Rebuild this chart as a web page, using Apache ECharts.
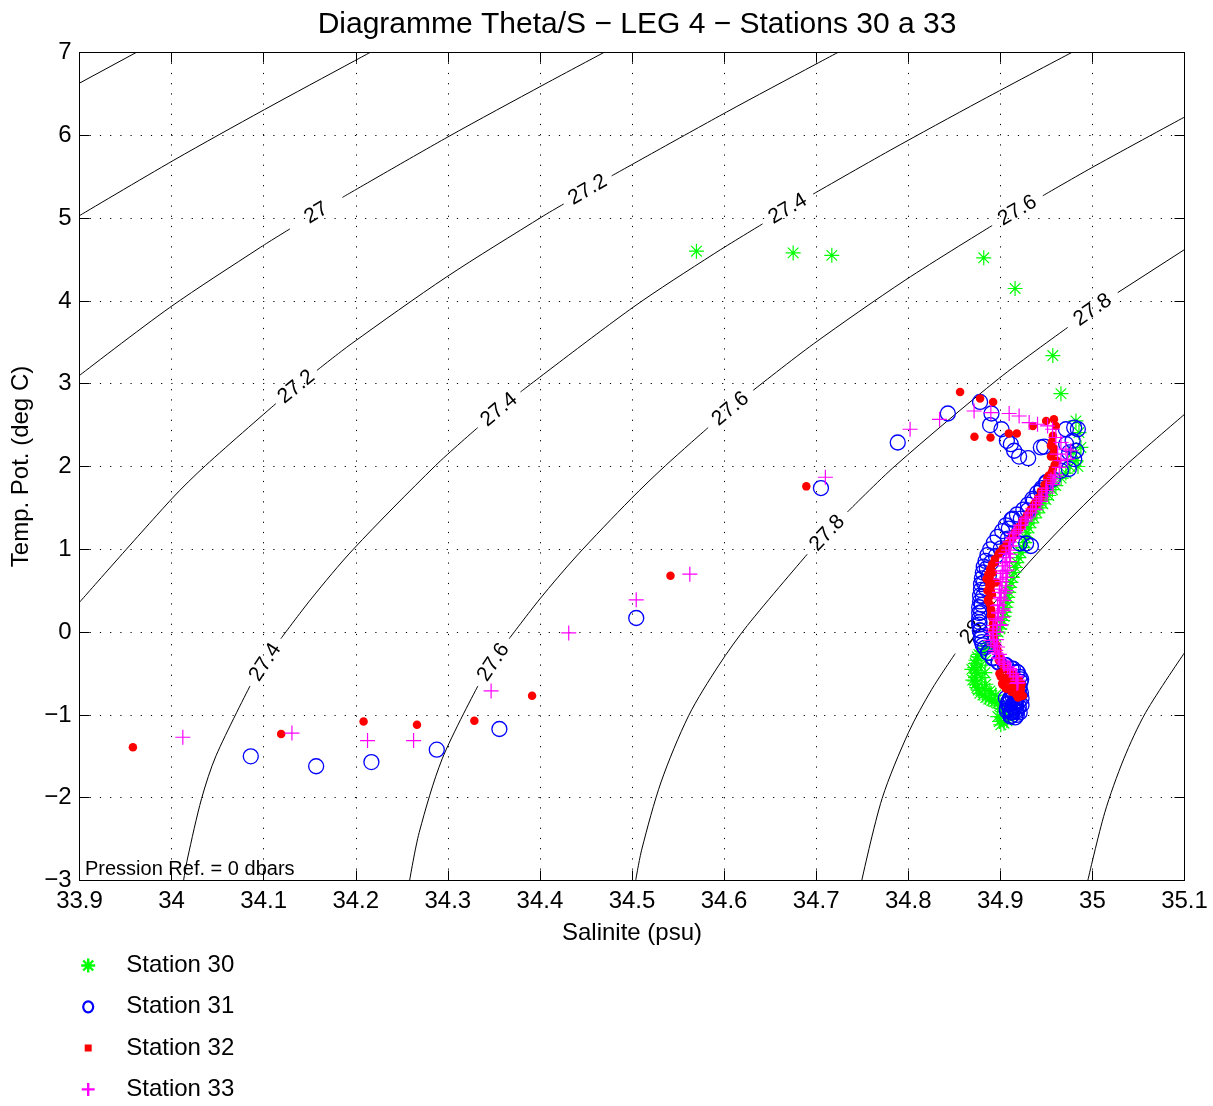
<!DOCTYPE html>
<html>
<head>
<meta charset="utf-8">
<script src="https://cdn.jsdelivr.net/npm/echarts@6/dist/echarts.min.js"></script>
<style>
  html, body { margin: 0; padding: 0; background: #fff; }
  #chart { width: 1213px; height: 1106px; }
</style>
</head>
<body>
<div id="chart"></div>
<script>
// ---- Axis ranges and ticks ----
const salinityRange = [33.9, 35.1];
const salinityStep = 0.1;
const thetaRange = [-3, 7];
const thetaStep = 1;

// ---- Isopycnals (sigma-theta), each split into pieces where a level label sits ----
const contourLevels = [26.6, 26.8, 27, 27.2, 27.4, 27.6, 27.8, 28, 28.2];

const sigma266 = [
  [[33.900, 6.63], [33.9615, 7.00]]
];
const sigma268 = [
  [[33.900, 5.03], [34.0025, 5.70], [34.1008, 6.31], [34.1988, 6.90], [34.2155, 7.00]]
];
const sigma270 = [
  [[33.900, 3.10], [33.998, 3.92], [34.0969, 4.65], [34.1286, 4.87]],
  [[34.1855, 5.25], [34.300, 5.98], [34.4055, 6.62], [34.4695, 7.00]]
];
const sigma272 = [
  [[33.900, 0.36], [34.0002, 1.61], [34.0367, 2.01], [34.1133, 2.76]],
  [[34.1578, 3.16], [34.195, 3.48], [34.2987, 4.29], [34.4043, 5.03], [34.4258, 5.17]],
  [[34.4779, 5.51], [34.6026, 6.28], [34.6998, 6.86], [34.7235, 7.00]]
];
const sigma274 = [
  [[34.013, -3.00], [34.0172, -2.74], [34.0326, -2.01], [34.0484, -1.49], [34.0852, -0.65]],
  [[34.1186, -0.08], [34.1515, 0.40], [34.1973, 1.00], [34.2865, 2.01], [34.3325, 2.47]],
  [[34.3789, 2.90], [34.5008, 3.92], [34.5892, 4.57], [34.6418, 4.93]],
  [[34.6967, 5.29], [34.7805, 5.82], [34.8792, 6.42], [34.9775, 7.00]]
];
const sigma276 = [
  [[34.2585, -3.00], [34.2689, -2.42], [34.2939, -1.53], [34.3327, -0.65]],
  [[34.3666, -0.08], [34.3999, 0.40], [34.4399, 0.92], [34.499, 1.61], [34.5363, 2.01], [34.5827, 2.47]],
  [[34.6316, 2.92], [34.697, 3.48], [34.7966, 4.25], [34.8911, 4.91]],
  [[34.9461, 5.27], [35.0027, 5.63], [35.100, 6.22]]
];
const sigma278 = [
  [[34.504, -3.00], [34.5107, -2.62], [34.5316, -1.81], [34.5615, -1.01], [34.5943, -0.40], [34.6253, 0.08], [34.6903, 0.94]],
  [[34.7339, 1.45], [34.786, 2.01], [34.8981, 3.06], [34.9732, 3.68]],
  [[35.0275, 4.10], [35.100, 4.62]]
];
const sigma280 = [
  [[34.7495, -3.00], [34.7716, -2.01], [34.8004, -1.21], [34.8256, -0.69], [34.851, -0.26]],
  [[34.8865, 0.26], [34.9135, 0.62], [34.9475, 1.04], [34.9903, 1.53], [35.0358, 2.01], [35.100, 2.63]]
];
const sigma282 = [
  [[34.995, -3.00], [35.0134, -2.18], [35.0341, -1.53], [35.0579, -0.97], [35.100, -0.25]]
];
const contourLines = [sigma266, sigma268, sigma270, sigma272, sigma274, sigma276, sigma278, sigma280, sigma282];

// ---- Station profiles: [salinity (psu), potential temperature (deg C)] ----
const stationNames = ['Station 30', 'Station 31', 'Station 32', 'Station 33'];

const station30 = [
  [34.570, 4.60], [34.675, 4.58], [34.717, 4.55], [34.882, 4.52], [34.916, 4.15], [34.957, 3.34],
  [34.9658, 2.88], [34.9821, 2.55], [34.9854, 2.41], [34.9875, 2.23], [34.979, 2.17], [34.9843, 2.00],
  [34.9821, 2.07], [34.9712, 1.92], [34.9603, 1.77], [34.9527, 1.65], [34.9462, 1.55], [34.9397, 1.44],
  [34.9332, 1.32], [34.9288, 1.20], [34.9266, 1.08], [34.9223, 0.96], [34.9179, 0.84], [34.9147, 0.72],
  [34.9114, 0.60], [34.9092, 0.48], [34.9071, 0.36], [34.9049, 0.24], [34.9027, 0.14], [34.8995, 0.04],
  [34.8951, -0.05], [34.8897, -0.13], [34.8832, -0.20], [34.8767, -0.27], [34.8734, -0.34], [34.8723, -0.43],
  [34.8745, -0.50], [34.8723, -0.59], [34.8745, -0.67], [34.8777, -0.74], [34.8842, -0.79], [34.8908, -0.83],
  [34.8973, -0.86], [34.9016, -0.92], [34.9038, -1.00], [34.9071, -1.07], [34.9005, -1.12], [34.8973, -1.02],
  [34.9114, -0.97], [34.8842, -0.34], [34.8832, -0.49], [34.8842, -0.63], [34.8886, -0.71], [34.8951, -0.76],
  [34.9755, 2.00], [34.9660, 1.86], [34.9565, 1.72], [34.9495, 1.60], [34.9430, 1.50], [34.9365, 1.38],
  [34.9310, 1.26], [34.9275, 1.14], [34.9245, 1.02], [34.9200, 0.90], [34.9165, 0.78], [34.9130, 0.66],
  [34.9100, 0.54], [34.9080, 0.42], [34.9060, 0.30], [34.9040, 0.19], [34.9010, 0.09], [34.8975, 0.00],
  [34.8925, -0.09], [34.8865, -0.17], [34.8800, -0.23], [34.8750, -0.30], [34.8728, -0.38], [34.8734, -0.46],
  [34.8730, -0.55], [34.8734, -0.63], [34.8760, -0.70], [34.8810, -0.76], [34.8875, -0.81], [34.8940, -0.84],
  [34.8995, -0.89], [34.9027, -0.96], [34.9055, -1.04], [34.9040, -1.10], [34.8990, -1.08],
  [34.8790, -0.40], [34.8800, -0.55], [34.8830, -0.68], [34.8900, -0.74], [34.8690, -0.45], [34.8700, -0.58]
];

const station31 = [
  [34.086, -1.50], [34.157, -1.62], [34.217, -1.57], [34.288, -1.42], [34.356, -1.17], [34.5046, 0.17],
  [34.7052, 1.74], [34.7886, 2.29], [34.843, 2.64],
  [34.8780, 2.78], [34.8904, 2.64], [34.8889, 2.50], [34.9013, 2.45], [34.9071, 2.31], [34.9114, 2.27],
  [34.9150, 2.19], [34.9204, 2.12], [34.9302, 2.10], [34.9440, 2.23], [34.9476, 2.24], [34.9712, 2.45],
  [34.9802, 2.47], [34.9842, 2.45], [34.9785, 2.31], [34.9715, 2.27], [34.9748, 2.17], [34.9824, 2.19],
  [34.9802, 2.09], [34.9744, 1.97], [34.9658, 1.95], [34.9571, 1.85], [34.9498, 1.81], [34.9440, 1.71],
  [34.9364, 1.59], [34.9299, 1.47], [34.9223, 1.37], [34.9136, 1.37], [34.9092, 1.25], [34.9209, 1.07],
  [34.9280, 1.07], [34.9332, 1.04], [34.9082, 1.13], [34.9005, 1.01], [34.8951, 0.92], [34.8900, 0.84],
  [34.8853, 0.77], [34.8875, 0.68], [34.8821, 0.60], [34.8846, 0.52], [34.8810, 0.43], [34.8799, 0.33],
  [34.8791, 0.24], [34.8774, 0.12], [34.8777, 0.02], [34.8788, -0.08], [34.8810, -0.16], [34.8864, -0.25],
  [34.8918, -0.32], [34.8984, -0.37], [34.9063, -0.40], [34.9136, -0.44], [34.9190, -0.49], [34.9226, -0.57],
  [34.9201, -0.68], [34.9147, -0.65], [34.9223, -0.73], [34.9136, -0.73], [34.9168, -0.83], [34.9092, -0.83],
  [34.9201, -0.90], [34.9136, -0.89], [34.9168, -0.95], [34.9114, -0.97], [34.9071, -0.92], [34.9179, -1.00],
  [34.950, 1.80], [34.945, 1.74], [34.940, 1.68], [34.935, 1.61], [34.930, 1.54], [34.925, 1.48],
  [34.918, 1.42], [34.912, 1.36], [34.906, 1.29], [34.902, 1.22], [34.897, 1.15], [34.893, 1.08],
  [34.889, 1.00], [34.886, 0.93], [34.884, 0.86], [34.882, 0.79], [34.881, 0.72], [34.880, 0.65],
  [34.879, 0.58], [34.879, 0.51], [34.878, 0.44], [34.878, 0.37], [34.877, 0.30], [34.877, 0.23],
  [34.877, 0.16], [34.877, 0.09], [34.878, 0.02], [34.879, -0.05], [34.880, -0.12], [34.883, -0.19],
  [34.887, -0.25], [34.892, -0.31], [34.898, -0.36], [34.905, -0.40], [34.912, -0.44], [34.918, -0.48],
  [34.921, -0.54], [34.922, -0.60], [34.921, -0.67], [34.920, -0.74], [34.918, -0.80], [34.916, -0.86],
  [34.915, -0.92], [34.913, -0.97], [34.910, -0.93], [34.909, -0.86], [34.911, -0.79], [34.914, -0.72],
  [34.918, -0.96], [34.912, -1.01],
  [34.906, -0.80], [34.908, -0.87], [34.907, -0.95], [34.911, -1.02], [34.916, -1.03], [34.921, -0.97],
  [34.923, -0.88], [34.923, -0.80], [34.919, -0.76], [34.913, -0.77], [34.910, -0.82], [34.914, -0.91],
  [34.917, -0.89], [34.912, -0.95], [34.915, -0.85], [34.920, -0.84]
];

const station32 = [
  [33.958, -1.39], [34.119, -1.23], [34.2085, -1.08], [34.2665, -1.12], [34.3288, -1.07], [34.3915, -0.77],
  [34.5418, 0.68], [34.6893, 1.76],
  [34.8563, 2.90], [34.8780, 2.82], [34.8922, 2.78], [34.8719, 2.36], [34.8893, 2.35], [34.9092, 2.40],
  [34.9179, 2.40], [34.9353, 2.49], [34.9498, 2.55], [34.9582, 2.57], [34.9603, 2.49], [34.9571, 2.37],
  [34.9549, 2.25], [34.9582, 2.17], [34.9614, 2.07], [34.9571, 1.97], [34.9527, 1.89], [34.9531, 1.83],
  [34.9484, 1.73], [34.9440, 1.63], [34.9397, 1.56], [34.9367, 1.51], [34.9310, 1.44], [34.9245, 1.35],
  [34.9223, 1.27], [34.9168, 1.21], [34.9133, 1.14], [34.9078, 1.02], [34.9027, 1.01], [34.8992, 0.96],
  [34.8937, 0.84], [34.8897, 0.77], [34.8883, 0.68], [34.8954, 0.60], [34.8897, 0.56], [34.8897, 0.50],
  [34.8864, 0.38], [34.8897, 0.28], [34.8897, 0.20], [34.8918, 0.02], [34.8951, -0.16], [34.8984, -0.34],
  [34.9038, -0.44], [34.9092, -0.52], [34.9168, -0.59], [34.9223, -0.68], [34.9136, -0.71], [34.9060, -0.68],
  [34.9190, -0.79], [34.9245, -0.77], [34.9005, -0.54], [34.9027, -0.64],
  [34.956, 2.30], [34.958, 2.22], [34.955, 2.12], [34.959, 2.02], [34.956, 1.93], [34.951, 1.86],
  [34.948, 1.78], [34.944, 1.70], [34.941, 1.62], [34.937, 1.55], [34.933, 1.48], [34.929, 1.41],
  [34.925, 1.34], [34.920, 1.27], [34.916, 1.20], [34.912, 1.13], [34.907, 1.06], [34.903, 1.00],
  [34.898, 0.94], [34.894, 0.88], [34.891, 0.82], [34.889, 0.76], [34.887, 0.70], [34.892, 0.72],
  [34.885, 0.64], [34.890, 0.62], [34.888, 0.57], [34.886, 0.50], [34.891, 0.45], [34.887, 0.40],
  [34.889, 0.33], [34.890, 0.26], [34.891, 0.18], [34.892, 0.10], [34.892, 0.02], [34.893, -0.06],
  [34.895, -0.14], [34.897, -0.22], [34.899, -0.30], [34.902, -0.38], [34.906, -0.44], [34.911, -0.48],
  [34.916, -0.53], [34.920, -0.58], [34.923, -0.63], [34.922, -0.70], [34.918, -0.66], [34.913, -0.62],
  [34.908, -0.58], [34.903, -0.55], [34.899, -0.50], [34.902, -0.62], [34.907, -0.68], [34.912, -0.72],
  [34.917, -0.75], [34.921, -0.78]
];

const station33 = [
  [34.0122, -1.27], [34.1307, -1.22], [34.2128, -1.31], [34.2628, -1.31], [34.347, -0.71], [34.4313, -0.01],
  [34.5046, 0.39], [34.5628, 0.70], [34.710, 1.87], [34.802, 2.45], [34.834, 2.57],
  [34.8715, 2.67], [34.8897, 2.65], [34.9096, 2.64], [34.9204, 2.61], [34.9313, 2.53], [34.9404, 2.51],
  [34.9513, 2.49], [34.9567, 2.45], [34.9603, 2.35], [34.9658, 2.29], [34.9712, 2.21], [34.9766, 2.19],
  [34.9622, 2.15], [34.9658, 2.07], [34.9730, 2.09], [34.9640, 1.99], [34.9585, 1.87],
  [34.957, 1.81], [34.9495, 1.71], [34.942, 1.61], [34.935, 1.49], [34.928, 1.37], [34.9223, 1.29],
  [34.917, 1.21], [34.9136, 1.13], [34.910, 1.04], [34.906, 0.95], [34.9027, 0.84], [34.906, 0.74],
  [34.902, 0.74], [34.900, 0.64], [34.906, 0.50], [34.899, 0.48], [34.901, 0.40], [34.897, 0.32],
  [34.903, 0.26], [34.898, 0.24], [34.895, 0.16], [34.900, 0.08], [34.893, 0.08], [34.892, 0.00],
  [34.8897, -0.10], [34.8937, -0.16], [34.895, -0.25], [34.8992, -0.32], [34.904, -0.37], [34.910, -0.44],
  [34.9172, -0.53], [34.919, -0.61],
  [34.960, 1.90], [34.955, 1.84], [34.957, 1.78], [34.950, 1.74], [34.951, 1.68], [34.945, 1.64],
  [34.944, 1.58], [34.939, 1.54], [34.938, 1.48], [34.933, 1.44], [34.930, 1.39], [34.927, 1.34],
  [34.922, 1.29], [34.920, 1.24], [34.915, 1.19], [34.914, 1.14], [34.910, 1.09], [34.911, 1.04],
  [34.909, 0.99], [34.911, 0.94], [34.907, 0.90], [34.910, 0.85], [34.905, 0.80], [34.908, 0.75],
  [34.903, 0.71], [34.907, 0.66], [34.902, 0.61], [34.906, 0.56], [34.901, 0.52], [34.905, 0.47],
  [34.900, 0.42], [34.904, 0.38], [34.899, 0.33], [34.903, 0.28], [34.898, 0.23], [34.902, 0.18],
  [34.897, 0.14], [34.900, 0.09], [34.892, 0.04], [34.896, 0.00], [34.892, -0.04], [34.896, -0.09],
  [34.893, -0.13], [34.897, -0.18], [34.895, -0.22], [34.899, -0.27], [34.898, -0.31], [34.903, -0.35],
  [34.904, -0.39], [34.908, -0.42], [34.911, -0.46], [34.914, -0.50], [34.917, -0.54], [34.919, -0.58],
  [34.918, -0.62]
];
const stationData = [station30, station31, station32, station33];

// ---- Styling ----
const FONT = '"Liberation Sans", Arial, Helvetica, sans-serif';
const stationColors = ['#00ff00', '#0000ff', '#ff0000', '#ff00ff'];
const asteriskPath = 'path://M0,-10L0,10M-10,0L10,0M-7.07,-7.07L7.07,7.07M-7.07,7.07L7.07,-7.07';
const plusPath = 'path://M0,-10L0,10M-10,0L10,0';
// legend icons share one 16x16 frame so their drawn sizes can differ
const frame = 'M-8,-8L-8,-8ZM8,8L8,8Z';
const legendIcons = [
  'path://' + frame + 'M0,-7L0,7M-7,0L7,0M-5,-5L5,5M-5,5L5,-5',
  'path://' + frame + 'M0,-5.5A5,5.5 0 1,1 0,5.5A5,5.5 0 1,1 0,-5.5Z',
  'path://' + frame + 'M-3.5,-3.5L3.5,-3.5L3.5,3.5L-3.5,3.5Z',
  'path://' + frame + 'M0,-6.5L0,6.5M-6.5,0L6.5,0'
];

const fmtNum = v => {
  const r = Math.round(v * 10) / 10;
  return r < 0 ? '\u2212' + Math.abs(r) : String(r);
};

const axisCommon = {
  type: 'value',
  axisLine: { show: true, onZero: false, lineStyle: { color: '#000', width: 1 } },
  axisTick: { show: true, inside: true, length: 10, lineStyle: { color: '#000', width: 1 } },
  splitLine: { show: false }
};

const series = [];
contourLines.forEach((pieces, k) => {
  pieces.forEach((piece, i) => {
    series.push({
      type: 'line',
      name: 'sigma ' + contourLevels[k] + ' #' + i,
      data: piece,
      showSymbol: false,
      symbol: 'none',
      smooth: piece.length > 2 ? 0.3 : false,
      lineStyle: { color: '#000', width: 1, opacity: 1 },
      silent: true,
      z: 2
    });
  });
});

const stationStyles = [
  { symbol: asteriskPath, symbolSize: 15, itemStyle: { color: 'rgba(0,0,0,0)', borderColor: stationColors[0], borderWidth: 1.2, opacity: 1 } },
  { symbol: 'circle', symbolSize: 15, itemStyle: { color: 'rgba(0,0,0,0)', borderColor: stationColors[1], borderWidth: 1.3, opacity: 1 } },
  { symbol: 'circle', symbolSize: 8.5, itemStyle: { color: stationColors[2], borderWidth: 0, opacity: 1 } },
  { symbol: plusPath, symbolSize: 15, itemStyle: { color: 'rgba(0,0,0,0)', borderColor: stationColors[3], borderWidth: 1.2, opacity: 1 } }
];
stationNames.forEach((name, i) => {
  series.push(Object.assign({
    type: 'scatter',
    name: name,
    data: stationData[i],
    silent: true,
    emphasis: { disabled: true },
    z: 4
  }, stationStyles[i]));
});

const option = {
  animation: false,
  backgroundColor: '#fff',
  textStyle: { fontFamily: FONT },
  title: {
    text: 'Diagramme Theta/S \u2212 LEG 4 \u2212 Stations 30 a 33',
    left: 632,
    textAlign: 'center',
    top: 5,
    textStyle: { fontFamily: FONT, fontSize: 30, fontWeight: 'normal', color: '#000' }
  },
  grid: { left: 79.5, top: 52.5, width: 1105, height: 828, containLabel: false },
  xAxis: [
    Object.assign({}, axisCommon, {
      position: 'bottom',
      min: salinityRange[0], max: salinityRange[1], interval: salinityStep,
      name: 'Salinite (psu)', nameLocation: 'middle', nameGap: 41,
      nameTextStyle: { fontFamily: FONT, fontSize: 24, color: '#000' },
      axisLabel: { formatter: fmtNum, color: '#000', fontSize: 24, fontFamily: FONT, margin: 9 },
      splitLine: { show: true, lineStyle: { color: '#000', width: 1, type: [1.2, 9] } }
    }),
    Object.assign({}, axisCommon, {
      position: 'top',
      min: salinityRange[0], max: salinityRange[1], interval: salinityStep,
      axisLabel: { show: false }
    })
  ],
  yAxis: [
    Object.assign({}, axisCommon, {
      position: 'left',
      min: thetaRange[0], max: thetaRange[1], interval: thetaStep,
      name: 'Temp. Pot. (deg C)', nameLocation: 'middle', nameGap: 35,
      nameTextStyle: { fontFamily: FONT, fontSize: 24, color: '#000' },
      axisLabel: { formatter: fmtNum, color: '#000', fontSize: 24, fontFamily: FONT, margin: 8 },
      splitLine: { show: true, lineStyle: { color: '#000', width: 1, type: [1.2, 9] } }
    }),
    Object.assign({}, axisCommon, {
      position: 'right',
      min: thetaRange[0], max: thetaRange[1], interval: thetaStep,
      axisLabel: { show: false }
    })
  ],
  legend: {
    orient: 'vertical',
    left: 79,
    top: 952.5,
    height: 153,
    padding: 0,
    itemWidth: 40,
    itemHeight: 16,
    itemGap: 15.3,
    selectedMode: false,
    textStyle: { fontFamily: FONT, fontSize: 24, color: '#000', lineHeight: 26, padding: [0, 0, 0, 13] },
    data: stationNames.map((name, i) => ({
      name: name,
      icon: legendIcons[i],
      itemStyle: i === 2
        ? { color: stationColors[i], borderWidth: 0, opacity: 1 }
        : { color: 'rgba(0,0,0,0)', borderColor: stationColors[i], borderWidth: i === 1 ? 2.2 : 2.4, opacity: 1 }
    }))
  },
  graphic: [{
    type: 'text',
    left: 85,
    top: 859,
    style: { text: 'Pression Ref. = 0 dbars', fontFamily: FONT, fontSize: 20, fill: '#000' },
    z: 10
  }],
  series: series
};

const chart = echarts.init(document.getElementById('chart'), null, { renderer: 'canvas' });
chart.setOption(option);

// Level labels sit in the gaps between pieces, turned along the contour
const labelData = [];
contourLines.forEach((pieces, k) => {
  for (let i = 0; i < pieces.length - 1; i++) {
    const a = pieces[i][pieces[i].length - 1];
    const b = pieces[i + 1][0];
    const pa = chart.convertToPixel({ xAxisIndex: 0, yAxisIndex: 0 }, a);
    const pb = chart.convertToPixel({ xAxisIndex: 0, yAxisIndex: 0 }, b);
    const angle = Math.atan2(pa[1] - pb[1], pb[0] - pa[0]) * 180 / Math.PI;
    labelData.push({
      value: [(a[0] + b[0]) / 2, (a[1] + b[1]) / 2],
      name: String(contourLevels[k]),
      label: { rotate: angle }
    });
  }
});
chart.setOption({
  series: [{
    id: 'contourLabels',
    type: 'scatter',
    data: labelData,
    symbolSize: 0,
    silent: true,
    z: 3,
    itemStyle: { opacity: 1 },
    label: {
      show: true,
      position: 'inside',
      formatter: p => p.name,
      fontFamily: FONT,
      fontSize: 21,
      color: '#000',
      opacity: 1,
      align: 'center',
      verticalAlign: 'middle'
    }
  }]
});
</script>
</body>
</html>
